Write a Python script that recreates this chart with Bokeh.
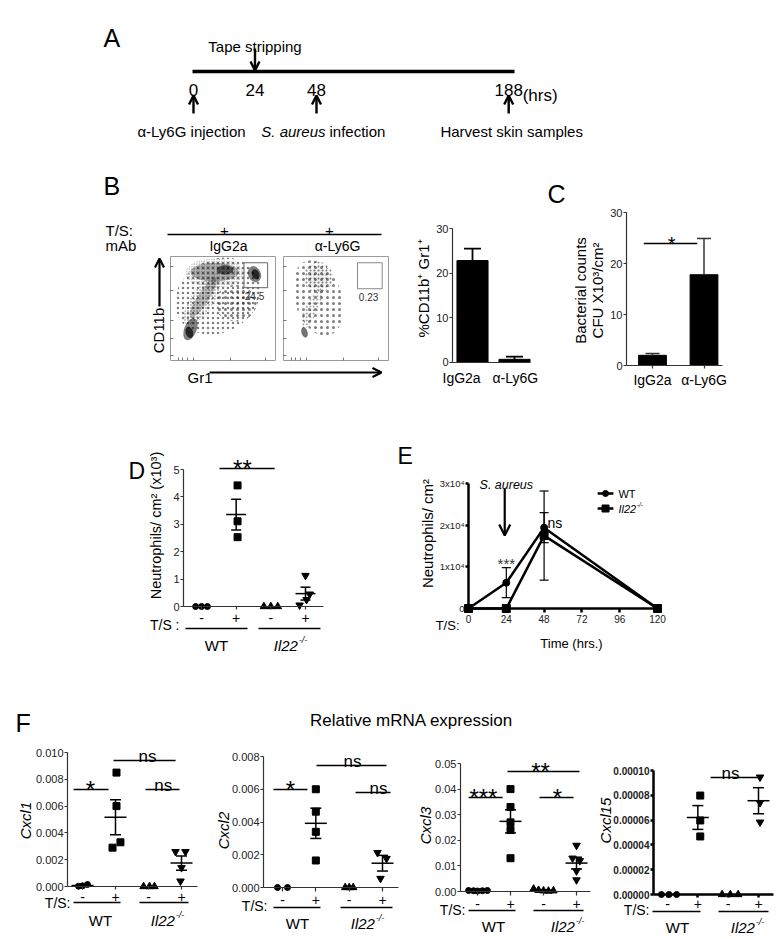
import numpy as np
from bokeh.plotting import figure
from bokeh.models import Range1d, LinearAxis, FixedTicker, Arrow, OpenHead, PrintfTickFormatter
from bokeh.core.properties import value
from bokeh.embed import file_html
from bokeh.resources import INLINE

FONT = "Liberation Sans"

# ======================= DATA =======================
# A - experimental timeline (schematic: the 48 h -> 188 h gap is not to scale)
a_tick_labels = ["0", "24", "48", "188"]
a_tick_pos = [0, 24, 48, 123]
a_down_pos = [24]
a_up_pos = [0, 48, 123]

# B - flow cytometry populations (relative Gr1 x, CD11b y, width, height, angle)
# dense cores (solid, with density) and sparse clouds (dotted, with dot spacing)
fl1_core_cx = [0.42, 0.52, 0.80, 0.81, 0.31, 0.19, 0.18]
fl1_core_cy = [0.85, 0.87, 0.83, 0.83, 0.60, 0.30, 0.27]
fl1_core_w = [0.46, 0.16, 0.12, 0.07, 0.44, 0.22, 0.07]
fl1_core_h = [0.18, 0.09, 0.16, 0.10, 0.11, 0.12, 0.11]
fl1_core_a = [0.0, 0.0, 0.4, 0.4, 0.99, 1.2, 0.3]
fl1_core_d = [0.30, 0.55, 0.50, 0.70, 0.25, 0.50, 0.70]
fl1_cloud_cx = [0.45, 0.42, 0.30, 0.62]
fl1_cloud_cy = [0.62, 0.84, 0.58, 0.55]
fl1_cloud_w = [0.85, 0.56, 0.55, 0.40]
fl1_cloud_h = [0.70, 0.28, 0.22, 0.35]
fl1_cloud_a = [0.5, 0.0, 0.99, 0.0]
fl1_cloud_s = [5, 2.5, 3, 6]
fl2_core_cx = [0.20, 0.33]
fl2_core_cy = [0.27, 0.80]
fl2_core_w = [0.06, 0.20]
fl2_core_h = [0.10, 0.20]
fl2_core_a = [0.3, 0.0]
fl2_core_d = [0.55, 0.06]
fl2_cloud_cx = [0.33, 0.33, 0.27]
fl2_cloud_cy = [0.60, 0.80, 0.50]
fl2_cloud_w = [0.45, 0.28, 0.42]
fl2_cloud_h = [0.75, 0.30, 0.12]
fl2_cloud_a = [0.3, 0.0, 1.15]
fl2_cloud_s = [6, 4, 3.5]
gate_pct = ["24.5", "0.23"]

b_groups = ["IgG2a", "α-Ly6G"]
b_pct = [22.8, 0.6]
b_sem = [2.7, 0.6]

# C
c_groups = ["IgG2a", "α-Ly6G"]
c_cfu = [2.0, 17.8]
c_sem = [0.35, 7.1]

ts_labels = ["-", "+", "-", "+"]

# D - neutrophils / cm2 (x10^3): WT -, WT +, Il22-/- -, Il22-/- +
d_vals = [[0, 0, 0], [4.42, 3.11, 2.53], [0, 0, 0], [1.13, 0.45, 0.25, 0.05]]
d_dx = [[-0.17, 0, 0.17], [0.04, 0.04, 0.04], [-0.2, 0, 0.2], [0, 0.12, 0.03, -0.17]]

# E - time course
e_hours = [0, 24, 48, 120]
e_wt = [0, 6200, 19400, 0]
e_wt_sem = [0, 3600, 3600, 0]
e_il22 = [0, 0, 17500, 0]
e_il22_sem = [0, 0, 10700, 0]

# F - relative mRNA expression
cxcl1_vals = [[0.00002, 0.00005, 0.00015], [0.0085, 0.0060, 0.0033, 0.0029], [0, 0, 0],
              [0.0026, 0.0026, 0.0014, 0.0004]]
cxcl1_dx = [[-0.12, 0.0, 0.15], [0.03, 0.03, 0.15, -0.09], [-0.15, 0.03, 0.18], [-0.18, 0.12, 0.0, -0.03]]
cxcl2_vals = [[0, 0], [0.0060, 0.00463, 0.0034, 0.00165], [0, 0, 0], [0.00213, 0.00177, 0.00055]]
cxcl2_dx = [[-0.15, 0.15], [0, 0, 0, 0], [-0.12, 0, 0.12], [-0.15, 0.12, -0.06]]
cxcl3_vals = [[0.0004, 0.0003, 0.0002, 0.0003, 0.0004], [0.040, 0.033, 0.027, 0.024, 0.013],
              [0.001, 0.0005, 0.0003, 0.0002, 0.0003], [0.018, 0.013, 0.012, 0.008, 0.0045]]
cxcl3_dx = [[-0.27, -0.12, 0, 0.15, 0.3], [0, 0, 0, 0, 0], [-0.3, -0.15, 0, 0.15, 0.3], [0, -0.12, 0.1, 0, 0]]
cxcl15_vals = [[0, 0, 0], [7.98e-5, 5.97e-5, 4.68e-5], [0, 0, 0], [9.46e-5, 7.4e-5, 5.83e-5]]
cxcl15_dx = [[-0.2, 0.05, 0.3], [0.08, 0.08, 0.08], [-0.2, 0.07, 0.33], [0.05, 0.05, 0.05]]

# significance bars: (x0, x1, y, label, x_label)
c_sig = [(0.83, 1.87, 23.9, "*", 1.37)]
d_sig = [(1.52, 3.11, 5.04, "**", 2.18)]
cxcl1_sig = [(0.73, 1.79, 0.00724, "*", 1.24), (1.94, 3.82, 0.0094, "ns", 2.97), (2.91, 3.94, 0.00724, "ns", 3.45)]
cxcl2_sig = [(0.73, 1.75, 0.00598, "*", 1.24), (2.02, 4.12, 0.00745, "ns", 3.1), (3.19, 4.24, 0.0058, "ns", 3.88)]
cxcl3_sig = [(0.73, 1.76, 0.0367, "***", 1.18), (1.91, 4.09, 0.0469, "**", 2.91), (2.88, 3.91, 0.0367, "*", 3.42)]
cxcl15_sig = [(2.42, 4.07, 9.44e-5, "ns", 3.08)]

# ======================= FIGURE =======================
W, H = 780, 938
PX0, PX1, PY0, PY1 = 0, W, 0, H

p = figure(width=W, height=H, x_range=Range1d(PX0, PX1), y_range=Range1d(PY1, PY0),
           x_axis_type=None, y_axis_type=None, toolbar_location=None, output_backend="svg",
           min_border=0, outline_line_color=None, title=None)
p.background_fill_color = "white"
p.border_fill_color = "white"


class M:
    def __init__(self, name, v0, p0, v1, p1, dim):
        self.name, self.v0, self.p0, self.dim = name, v0, p0, dim
        self.k = (v1 - v0) / (p1 - p0)
        if dim == "x":
            p.extra_x_ranges[name] = Range1d(self.v(PX0), self.v(PX1))
        else:
            p.extra_y_ranges[name] = Range1d(self.v(PY1), self.v(PY0))

    def v(self, px):
        return self.v0 + (px - self.p0) * self.k


def T(x, y, s, size=14, align="center", baseline="alphabetic", style="normal", angle=0.0,
      color="black", xn="default", yn="default", xo=0, yo=0):
    p.text(x=[x], y=[y], text=[s], text_font=value(FONT), text_font_size=value(f"{size}px"),
           text_font_style=style, text_align=align, text_baseline=baseline, angle=angle,
           text_color=color, x_range_name=xn, y_range_name=yn, x_offset=xo, y_offset=yo)


def il22(x, y, size, align="center", xn="default", yn="default", baseline="alphabetic"):
    w_main = 1.61 * size
    w_sup = 0.57 * size
    total = w_main + 0.05 * size + w_sup
    off = -total / 2 if align == "center" else 0
    T(x, y, "Il22", size, align="left", style="italic", xn=xn, yn=yn, xo=off, baseline=baseline)
    T(x, y, "-/-", round(size * 0.62, 1), align="left", style="italic", xn=xn, yn=yn,
      xo=off + w_main + 0.05 * size, yo=-0.38 * size, baseline=baseline)


def arrow(x0, y0, x1, y1, xn="default", yn="default", lw=2.4, size=9):
    p.add_layout(Arrow(x_start=x0, y_start=y0, x_end=x1, y_end=y1, x_range_name=xn, y_range_name=yn,
                       line_width=lw, line_color="black",
                       end=OpenHead(size=size, line_width=lw, line_color="black")))


def seg(x0, y0, x1, y1, lw=1.5, color="black", xn="default", yn="default"):
    p.segment(x0=[x0], y0=[y0], x1=[x1], y1=[y1], line_width=lw, line_color=color,
              x_range_name=xn, y_range_name=yn)


def style_axis(ax, size="11px", out=3, stand=1, lw=1.2, color="#333", bold=False, tcolor="#222"):
    ax.axis_line_color = color
    ax.axis_line_width = lw
    ax.major_tick_line_color = color
    ax.major_tick_line_width = lw
    ax.major_tick_out = out
    ax.major_tick_in = 0
    ax.minor_tick_line_color = None
    ax.major_label_text_font = FONT
    ax.major_label_text_font_size = size
    ax.major_label_text_color = tcolor
    ax.major_label_standoff = stand
    if bold:
        ax.major_label_text_font_style = "bold"


def yaxis(mx, my, loc, bounds, ticks, fmt=None, overrides=None, **kw):
    ax = LinearAxis(x_range_name=mx.name, y_range_name=my.name, fixed_location=loc, bounds=bounds,
                    ticker=FixedTicker(ticks=ticks))
    if fmt:
        ax.formatter = PrintfTickFormatter(format=fmt)
    if overrides:
        ax.major_label_overrides = overrides
    style_axis(ax, **kw)
    p.add_layout(ax, "left")
    return ax


def xaxis(mx, my, loc, bounds, ticks, overrides=None, **kw):
    ax = LinearAxis(x_range_name=mx.name, y_range_name=my.name, fixed_location=loc, bounds=bounds,
                    ticker=FixedTicker(ticks=ticks))
    if overrides:
        ax.major_label_overrides = overrides
    style_axis(ax, **kw)
    p.add_layout(ax, "below")
    return ax


MARKERS = ["circle", "square", "triangle", "inverted_triangle"]
MSIZE = [6, 7, 7.5, 7.5]


def dot_panel(mx, my, vals, dx, mean_size=22, cap_size=11):
    for g in range(4):
        xs = [g + 1 + o for o in dx[g]]
        p.scatter(xs, vals[g], marker=MARKERS[g], size=MSIZE[g], color="black",
                  x_range_name=mx.name, y_range_name=my.name)
        arr = np.asarray(vals[g], float)
        m = arr.mean()
        s = arr.std(ddof=1) / np.sqrt(arr.size)
        if s <= 0:
            continue
        p.scatter([g + 1], [m], marker="dash", size=mean_size, line_width=1.5, color="black",
                  x_range_name=mx.name, y_range_name=my.name)
        p.segment(x0=[g + 1], y0=[m - s], x1=[g + 1], y1=[m + s], line_width=1.5, color="black",
                  x_range_name=mx.name, y_range_name=my.name)
        p.scatter([g + 1, g + 1], [m - s, m + s], marker="dash", size=cap_size, line_width=1.5,
                  color="black", x_range_name=mx.name, y_range_name=my.name)


def sig(mx, my, items, star_size=24, ns_size=17):
    for x0, x1, y, lab, xl in items:
        seg(x0, y, x1, y, lw=1.5, xn=mx.name, yn=my.name)
        if lab == "ns":
            T(xl, y, lab, ns_size, xn=mx.name, yn=my.name, yo=-4)
        else:
            T(xl, y, lab, star_size, xn=mx.name, yn=my.name, yo=0)


# ---------------- Panel A ----------------
ax_ = M("ax", 0, 193, 48, 316, "x")
T(103, 37, "A", 25, align="left")
seg(ax_.v(192), 71, ax_.v(514), 71, lw=3.5, xn="ax")
p.text(x=a_tick_pos, y=[95] * 4, text=a_tick_labels, x_range_name="ax", text_font=value(FONT),
       text_font_size=value("17px"), text_align="center")
T(a_tick_pos[-1], 95, "(hrs)", 17, align="left", xn="ax", xo=14)
for xp in a_down_pos:
    arrow(xp, 48, xp, 70, xn="ax")
T(a_down_pos[0], 46, "Tape stripping", 15, xn="ax")
for xp in a_up_pos:
    arrow(xp, 113, xp, 95, xn="ax")
T(a_up_pos[0], 131, "α-Ly6G injection", 15, xn="ax", xo=-2)
T(a_up_pos[1], 131, "S. aureus", 15, align="right", style="italic", xn="ax", xo=9)
T(a_up_pos[1], 131, "infection", 15, align="left", xn="ax", xo=13)
T(a_up_pos[2], 131, "Harvest skin samples", 15, xn="ax", xo=3)

# ---------------- Panel B (flow) ----------------
T(103, 185, "B", 25, align="left")
T(105, 230, "T/S:", 15, align="left")
T(105, 245, "mAb", 15, align="left")
seg(167, 234, 381, 234, lw=1.5)
T(224, 230, "+", 15)
T(329, 230, "+", 15)
T(228, 245, "IgG2a", 14)
T(337, 245, "α-Ly6G", 14)

fy = M("fly", 0, 360, 1, 256, "y")
f1 = M("fl1x", 0, 170, 1, 275, "x")
f2 = M("fl2x", 0, 283, 1, 388, "x")
FLOWS = [
    (f1, (fl1_cloud_cx, fl1_cloud_cy, fl1_cloud_w, fl1_cloud_h, fl1_cloud_a, fl1_cloud_s),
     (fl1_core_cx, fl1_core_cy, fl1_core_w, fl1_core_h, fl1_core_a, fl1_core_d)),
    (f2, (fl2_cloud_cx, fl2_cloud_cy, fl2_cloud_w, fl2_cloud_h, fl2_cloud_a, fl2_cloud_s),
     (fl2_core_cx, fl2_core_cy, fl2_core_w, fl2_core_h, fl2_core_a, fl2_core_d)),
]
for fm, cloud, core in FLOWS:
    ccx, ccy, cw, ch, ca, cs = cloud
    p.ellipse(x=ccx, y=ccy, width=cw, height=ch, angle=ca, fill_color=None, line_color=None,
              hatch_pattern="dot", hatch_scale=cs, hatch_weight=0.45, hatch_color="black", hatch_alpha=0.5,
              x_range_name=fm.name, y_range_name=fy.name)
    kx, ky, kw_, kh, ka, kd = core
    p.ellipse(x=kx, y=ky, width=kw_, height=kh, angle=ka, fill_color="black", fill_alpha=kd,
              line_color=None, x_range_name=fm.name, y_range_name=fy.name)
    p.quad(left=[0], right=[1], bottom=[0], top=[1], fill_color=None, line_color="#999",
           line_width=1, x_range_name=fm.name, y_range_name=fy.name)
    lt = [0.05, 0.21, 0.38, 0.67, 0.90]
    yl = yaxis(fm, fy, 0, (0, 1), lt, overrides={t: "" for t in lt}, out=0, color="#777", lw=1)
    yl.major_tick_in = 3
    yl.axis_line_color = None
    bt = [0.08, 0.11, 0.16, 0.22, 0.57, 0.90]
    xl = xaxis(fm, fy, 0, (0, 1), bt, overrides={t: "" for t in bt}, out=0, color="#777", lw=1)
    xl.major_tick_in = 3
    xl.axis_line_color = None
p.quad(left=[0.70], right=[0.925], bottom=[0.70], top=[0.94], fill_color=None, line_color="#666",
       x_range_name=f1.name, y_range_name=fy.name)
p.quad(left=[0.705], right=[0.94], bottom=[0.69], top=[0.94], fill_color=None, line_color="#888",
       x_range_name=f2.name, y_range_name=fy.name)
T(0.80, 0.625, gate_pct[0], 10, baseline="middle", color="#333", xn=f1.name, yn=fy.name)
T(0.81, 0.615, gate_pct[1], 10, baseline="middle", color="#333", xn=f2.name, yn=fy.name)
T(158, 330, "CD11b", 15, baseline="middle", angle=np.pi / 2)
arrow(159, 306, 159, 258, lw=2.2)
T(187, 377, "Gr1", 15, align="left")
arrow(209, 372, 381, 372, lw=2.2)

# ---------------- Panel B (bar) ----------------
bx = M("bx", 1, 472, 2, 514, "x")
by = M("by", 0, 361.5, 30, 228, "y")
p.vbar(x=[1, 2], top=b_pct, width=0.74, fill_color="black", line_color="black",
       x_range_name="bx", y_range_name="by")
for i in range(2):
    seg(i + 1, b_pct[i], i + 1, b_pct[i] + b_sem[i], lw=1.8, xn="bx", yn="by")
    p.scatter([i + 1], [b_pct[i] + b_sem[i]], marker="dash", size=17, line_width=1.8, color="black",
              x_range_name="bx", y_range_name="by")
yaxis(bx, by, bx.v(452), (0, 30), [0, 10, 20, 30], size="11px", out=3, stand=1)
xaxis(bx, by, 0, (bx.v(452), bx.v(530)), [0.74, 2.02], overrides={0.74: b_groups[0], 2.02: b_groups[1]},
      size="14px", out=0, stand=8, tcolor="black")
T(423, 288, "%CD11b⁺ Gr1⁺", 15, baseline="middle", angle=np.pi / 2)

# ---------------- Panel C ----------------
T(547, 193, "C", 25, align="left")
cx = M("cx", 1, 652, 2, 703.5, "x")
cy = M("cy", 0, 365, 30, 212, "y")
p.vbar(x=[1, 2], top=c_cfu, width=0.54, fill_color="black", line_color="black",
       x_range_name="cx", y_range_name="cy")
for i in range(2):
    seg(i + 1, c_cfu[i], i + 1, c_cfu[i] + c_sem[i], lw=1.5, color="#333", xn="cx", yn="cy")
    p.scatter([i + 1], [c_cfu[i] + c_sem[i]], marker="dash", size=14, line_width=1.5, color="#333",
              x_range_name="cx", y_range_name="cy")
yaxis(cx, cy, cx.v(626), (0, 30), [0, 10, 20, 30], size="11px", out=3, stand=1)
xaxis(cx, cy, 0, (cx.v(626), cx.v(722)), [1, 2], overrides={1: c_groups[0], 2: c_groups[1]},
      size="14px", out=3, stand=3, tcolor="black")
sig(cx, cy, c_sig, star_size=20)
T(580, 290, "Bacterial counts", 15, baseline="middle", angle=np.pi / 2)
T(597, 290, "CFU X10³/cm²", 15, baseline="middle", angle=np.pi / 2)

# ---------------- Panel D ----------------
T(128, 470, "D", 23, align="left")
dxm = M("dx", 1, 201, 4, 305, "x")
dym = M("dy", 0, 606, 5, 469, "y")
dot_panel(dxm, dym, d_vals, d_dx, mean_size=20, cap_size=10)
yaxis(dxm, dym, dxm.v(183), (0, 5), [0, 1, 2, 3, 4, 5], size="11px", out=3, stand=1)
xaxis(dxm, dym, 0, (dxm.v(183), dxm.v(323)), [1, 2, 3, 4],
      overrides={i + 1: s for i, s in enumerate(ts_labels)}, size="14px", out=3, stand=3, tcolor="black")
sig(dxm, dym, d_sig)
T(155, 525, "Neutrophils/ cm² (x10³)", 14.5, baseline="middle", angle=np.pi / 2)
T(179, 624, "T/S :", 14, align="right")
seg(185, 628, 247, 628)
seg(258, 628, 320, 628)
T(216, 645, "WT", 15)
il22(290, 645, 15)

# ---------------- Panel E ----------------
T(397, 455, "E", 23, align="left")
exm = M("ex", 0, 468, 120, 657, "x")
eym = M("ey", 0, 608, 30000, 483, "y")
for ys, ss, mk, sz in [(e_il22, e_il22_sem, "square", 8), (e_wt, e_wt_sem, "circle", 7)]:
    p.line(e_hours, ys, line_width=2.5, color="black", x_range_name="ex", y_range_name="ey")
    p.scatter(e_hours, ys, marker=mk, size=sz, color="black", x_range_name="ex", y_range_name="ey")
    for h, v, s in zip(e_hours, ys, ss):
        if s > 0:
            seg(h, v - s, h, v + s, lw=1.2, xn="ex", yn="ey")
            p.scatter([h, h], [v - s, v + s], marker="dash", size=9, line_width=1.2, color="black",
                      x_range_name="ex", y_range_name="ey")
yaxis(exm, eym, 0, (0, 30000), [0, 10000, 20000, 30000],
      overrides={0: "0", 10000: "1x10⁴", 20000: "2x10⁴", 30000: "3x10⁴"},
      size="9.5px", out=3, stand=1, lw=2.5, color="black")
xaxis(exm, eym, 0, (0, 122), [0, 24, 48, 72, 96, 120], size="10px", out=4, stand=2, lw=2.5, color="black")
T(24, e_wt[1] + e_wt_sem[1], "***", 15, xn="ex", yn="ey", yo=-4, color="#333")
T(50.2, 20600, "ns", 14, align="left", xn="ex", yn="ey")
T(24, 29760, "S. aureus", 12.5, style="italic", xn="ex", yn="ey")
arrow(23, 28800, 23, 17500, xn="ex", yn="ey", lw=2.2, size=11)
# legend
for yy, mk, sz in [(27600, "circle", 6), (24000, "square", 7)]:
    seg(82, yy, 92, yy, lw=2.5, xn="ex", yn="ey")
    p.scatter([87], [yy], marker=mk, size=sz, color="black", x_range_name="ex", y_range_name="ey")
T(95.2, 27600, "WT", 11, align="left", baseline="middle", xn="ex", yn="ey")
il22(95.2, 24000, 11, align="left", xn="ex", yn="ey", baseline="middle")
T(427, 533, "Neutrophils/ cm²", 15, baseline="middle", angle=np.pi / 2)
T(459, 625, "T/S:", 13, align="right")
T(571, 643, "Time (hrs.)", 13)

# ---------------- Panel F ----------------
T(15, 722, "F", 25, align="left")
T(411, 720, "Relative mRNA expression", 17)

F_PANELS = [
    ("f1", "Cxcl1", cxcl1_vals, cxcl1_dx, cxcl1_sig, (1, 82, 4, 181), (0, 886, 0.010, 752), 67, 197,
     [0, 0.002, 0.004, 0.006, 0.008, 0.010], "%.3f", dict(out=3, stand=1), dict(out=3, stand=2), 25, 820,
     (70, 902, (73, 120), (139, 188), 902, 100, 167, 920)),
    ("f2", "Cxcl2", cxcl2_vals, cxcl2_dx, cxcl2_sig, (1, 282, 4, 382), (0, 887, 0.008, 756), 263, 398,
     [0, 0.002, 0.004, 0.006, 0.008], "%.3f", dict(out=3, stand=1), dict(out=4, stand=3), 223, 830,
     (267, 905, (273, 320), (340, 392), 907, 297, 367, 923)),
    ("f3", "Cxcl3", cxcl3_vals, cxcl3_dx, cxcl3_sig, (1, 477, 4, 576), (0, 891, 0.05, 763), 460, 590,
     [0, 0.01, 0.02, 0.03, 0.04, 0.05], "%.2f", dict(out=3, stand=1), dict(out=4, stand=3), 425, 825,
     (465, 909, (468, 515), (533, 583), 910, 493, 567, 926)),
    ("f4", "Cxcl15", cxcl15_vals, cxcl15_dx, cxcl15_sig, (1, 667, 4, 758), (0, 894, 0.0001, 770), 653, 773,
     [0, 0.00002, 0.00004, 0.00006, 0.00008, 0.0001], "%.5f",
     dict(out=3, stand=1, lw=2.5, color="black", bold=True, size="10px"),
     dict(out=3, stand=1, lw=2.5, color="black"), 605, 820,
     (649, 909, (652, 700), (718, 768), 911, 677, 747, 927)),
]

for (nm, gene, vals, dxs, sigs, xm_, ym_, axpx, xend, yt, fmt, ykw, xkw, lx, ly, lab) in F_PANELS:
    mx = M(nm + "x", *xm_, "x")
    my = M(nm + "y", *ym_, "y")
    dot_panel(mx, my, vals, dxs, mean_size=22, cap_size=11)
    ykw = dict(ykw)
    ykw.setdefault("size", "11px")
    yaxis(mx, my, mx.v(axpx), (0, yt[-1]), yt, fmt=fmt, **ykw)
    xaxis(mx, my, 0, (mx.v(axpx), mx.v(xend)), [1, 2, 3, 4],
          overrides={i + 1: s for i, s in enumerate(ts_labels)}, size="14px", tcolor="black", **xkw)
    sig(mx, my, sigs)
    T(lx, ly, gene, 15, baseline="middle", style="italic", angle=np.pi / 2)
    tsx, tsy, wt_l, il_l, ly_line, wtx, ilx, gy = lab
    T(tsx, tsy, "T/S:", 14, align="right")
    seg(wt_l[0], ly_line, wt_l[1], ly_line)
    seg(il_l[0], ly_line, il_l[1], ly_line)
    T(wtx, gy, "WT", 15)
    il22(ilx, gy, 15)

open("out.html", "w").write(file_html(p, INLINE))
